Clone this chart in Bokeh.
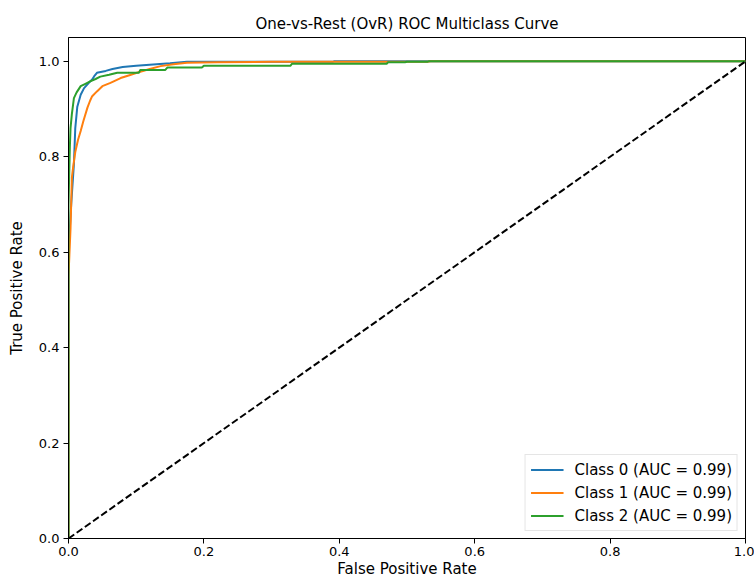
from bokeh.plotting import figure
from bokeh.models import Range1d, FixedTicker, NumeralTickFormatter, Legend, LegendItem
from bokeh.embed import file_html
from bokeh.resources import INLINE

# ROC curve data
class0_fpr = [0.0, 0.0, 0.004, 0.008, 0.010, 0.013, 0.018, 0.023, 0.030, 0.035, 0.038, 0.042,
              0.055, 0.065, 0.080, 0.100, 0.120, 0.150, 0.175, 0.390, 0.392, 1.0]
class0_tpr = [0.0, 0.60, 0.70, 0.785, 0.86, 0.905, 0.93, 0.944, 0.955, 0.962, 0.969, 0.976,
              0.980, 0.984, 0.988, 0.991, 0.993, 0.996, 0.999, 0.999, 1.0, 1.0]

class1_fpr = [0.0, 0.0, 0.003, 0.005, 0.007, 0.010, 0.014, 0.018, 0.022, 0.028, 0.032, 0.035,
              0.042, 0.050, 0.062, 0.077, 0.090, 0.101, 0.120, 0.136, 0.155, 0.175, 0.220,
              0.300, 0.530, 0.535, 1.0]
class1_tpr = [0.0, 0.55, 0.65, 0.757, 0.78, 0.81, 0.835, 0.854, 0.875, 0.903, 0.918, 0.927,
              0.937, 0.948, 0.955, 0.965, 0.971, 0.976, 0.984, 0.990, 0.994, 0.997, 0.998,
              0.999, 0.999, 1.0, 1.0]

class2_fpr = [0.0, 0.0, 0.002, 0.003, 0.005, 0.008, 0.012, 0.018, 0.025, 0.032, 0.040, 0.047,
              0.060, 0.072, 0.104, 0.106, 0.143, 0.146, 0.197, 0.200, 0.328, 0.330, 0.470,
              0.472, 0.497, 0.500, 0.530, 0.532, 1.0]
class2_tpr = [0.0, 0.70, 0.82, 0.86, 0.89, 0.923, 0.935, 0.948, 0.953, 0.958, 0.963, 0.968,
              0.972, 0.976, 0.976, 0.982, 0.982, 0.987, 0.987, 0.991, 0.991, 0.995, 0.995,
              0.998, 0.998, 0.999, 0.999, 1.0, 1.0]

chance_x = [0.0, 1.0]
chance_y = [0.0, 1.0]

labels = ["Class 0 (AUC = 0.99)", "Class 1 (AUC = 0.99)", "Class 2 (AUC = 0.99)"]
colors = ["#1f77b4", "#ff7f0e", "#2ca02c"]
ticks = [0.0, 0.2, 0.4, 0.6, 0.8, 1.0]

FONT = "DejaVu Sans"

p = figure(width=754, height=583, output_backend="svg", toolbar_location=None,
           x_range=Range1d(0, 1.0), y_range=Range1d(0, 1.05),
           min_border_left=68, min_border_right=9, min_border_top=37, min_border_bottom=45,
           title="One-vs-Rest (OvR) ROC Multiclass Curve")

p.title.align = "center"
p.title.text_font = FONT
p.title.text_font_size = "15px"
p.title.text_font_style = "normal"
p.title.text_color = "#000000"

p.grid.visible = False
p.outline_line_color = "#000000"
p.outline_line_width = 1
p.background_fill_color = "white"
p.border_fill_color = "white"

for ax in (p.xaxis[0], p.yaxis[0]):
    ax.ticker = FixedTicker(ticks=ticks)
    ax.formatter = NumeralTickFormatter(format="0.0")
    ax.minor_tick_line_color = None
    ax.major_tick_in = 0
    ax.major_tick_out = 5
    ax.major_tick_line_color = "#000000"
    ax.axis_line_color = "#000000"
    ax.major_label_text_font = FONT
    ax.major_label_text_font_size = "13px"
    ax.major_label_text_color = "#000000"
    ax.axis_label_text_font = FONT
    ax.axis_label_text_font_size = "15px"
    ax.axis_label_text_font_style = "normal"
    ax.axis_label_text_color = "#000000"

p.xaxis.axis_label = "False Positive Rate"
p.yaxis.axis_label = "True Positive Rate"
p.xaxis.major_label_standoff = 3
p.yaxis.major_label_standoff = 4
p.xaxis.axis_label_standoff = 1
p.yaxis.axis_label_standoff = 10

r0 = p.line(class0_fpr, class0_tpr, line_color=colors[0], line_width=2)
r1 = p.line(class1_fpr, class1_tpr, line_color=colors[1], line_width=2)
r2 = p.line(class2_fpr, class2_tpr, line_color=colors[2], line_width=2)
p.line(chance_x, chance_y, line_color="#000000", line_width=2, line_dash="7 3")

legend = Legend(items=[LegendItem(label=labels[0], renderers=[r0]),
                       LegendItem(label=labels[1], renderers=[r1]),
                       LegendItem(label=labels[2], renderers=[r2])],
                location="bottom_right")
legend.label_text_font = FONT
legend.label_text_font_size = "15px"
legend.label_text_color = "#000000"
legend.border_line_color = "#cccccc"
legend.border_line_width = 1
legend.background_fill_color = "white"
legend.background_fill_alpha = 0.8
legend.glyph_width = 33
legend.glyph_height = 19
legend.label_height = 19
legend.label_standoff = 11
legend.spacing = 4
legend.padding = 5
legend.margin = 7
p.add_layout(legend, "center")

open("out.html", "w").write(file_html(p, INLINE))
